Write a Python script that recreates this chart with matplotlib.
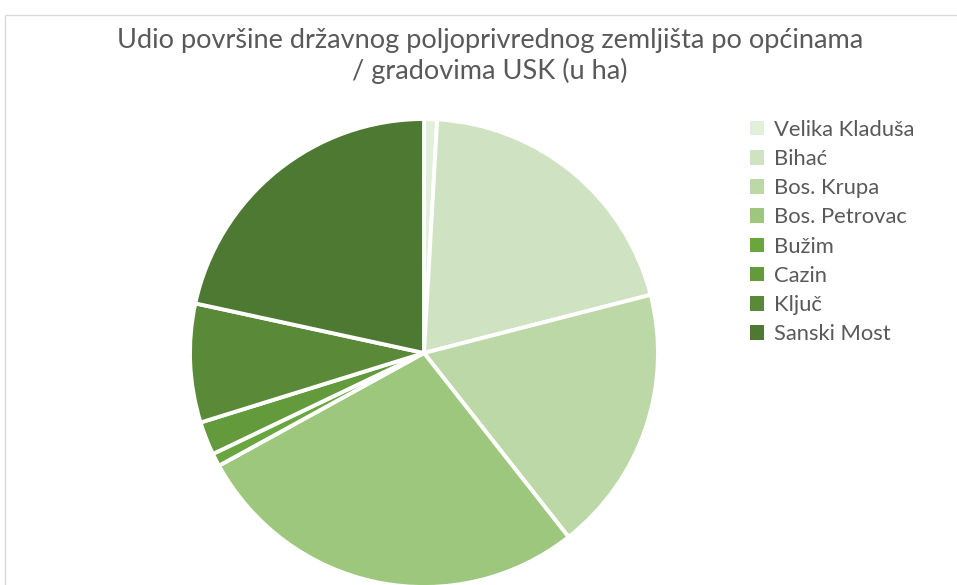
import matplotlib
matplotlib.use("Agg")
import matplotlib.pyplot as plt
from matplotlib.patches import Rectangle, Patch

# Municipalities / towns of USK and share of state agricultural land (%)
municipalities = [
    "Velika Kladuša",
    "Bihać",
    "Bos. Krupa",
    "Bos. Petrovac",
    "Bužim",
    "Cazin",
    "Ključ",
    "Sanski Most",
]
area_share = [0.9, 20.1, 18.4, 27.6, 0.9, 2.3, 8.2, 21.6]
colors = [
    "#e2efda",
    "#cfe3c3",
    "#bcd8a6",
    "#9dc77c",
    "#6aa640",
    "#629a3c",
    "#5a8a38",
    "#4e7932",
]

title = "Udio površine državnog poljoprivrednog zemljišta po općinama\n/ gradovima USK (u ha)"

plt.rcParams["font.family"] = ["Lato", "DejaVu Sans"]
text_color = "#595959"

fig = plt.figure(figsize=(9.57, 5.85), dpi=100)

# chart area border (cut off at right / bottom like the screenshot)
fig.patches.append(
    Rectangle((5 / 957, -0.1), 1.2, 1 - 15 / 585 + 0.1, transform=fig.transFigure,
              fill=False, edgecolor="#d9d9d9", linewidth=1.0)
)

# pie axes: centre ~(424, 353) px, radius ~234 px
cx, cy, r = 424, 353, 234
ax = fig.add_axes([(cx - r) / 957, (585 - cy - r) / 585, 2 * r / 957, 2 * r / 585])
wedges, _ = ax.pie(
    area_share,
    colors=colors,
    startangle=90,
    counterclock=False,
    radius=1.0,
    wedgeprops=dict(edgecolor="white", linewidth=2.8),
)
ax.set_xlim(-1, 1)
ax.set_ylim(-1, 1)
ax.set_aspect("equal")
ax.axis("off")

fig.text(490 / 957, 1 - 56 / 585, title, ha="center", va="center",
         fontsize=19.5, color=text_color, linespacing=1.2)

handles = [Patch(facecolor=c, edgecolor="none") for c in colors]
leg = fig.legend(
    handles, municipalities,
    loc="upper left", bbox_to_anchor=(741 / 957, 1 - 111 / 585),
    frameon=False, fontsize=15.8, handlelength=0.65, handleheight=0.65,
    handletextpad=0.45, labelspacing=0.42, borderaxespad=0,
)
for t in leg.get_texts():
    t.set_color(text_color)

fig.savefig("out.png", dpi=100)
